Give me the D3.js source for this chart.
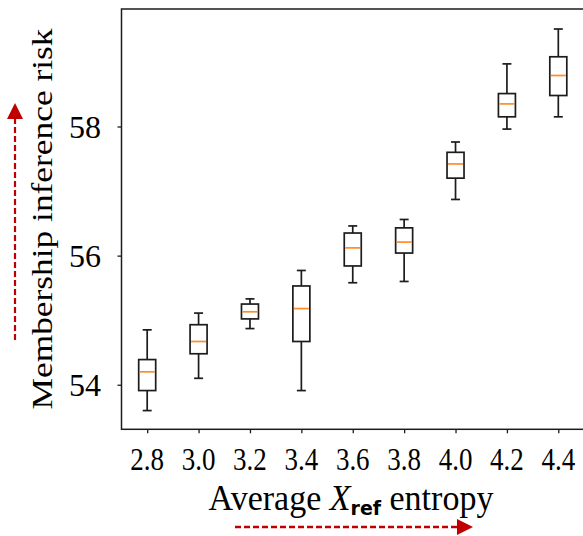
<!DOCTYPE html>
<html lang="en">
	<head>
		<meta charset="utf-8">
		<title>D3: membership inference boxplot</title>
		<script src="https://d3js.org/d3.v7.min.js"></script>
		<style type="text/css">
			body { margin: 0; background: #fff; }
			svg { display: block; }
		</style>
	</head>
	<body>
		<script type="text/javascript">
			// values
			var entropyLabels = ["2.8", "3.0", "3.2", "3.4", "3.6", "3.8", "4.0", "4.2", "4.4"];
			var whiskerLow  = [53.60, 54.10, 54.87, 53.91, 55.58, 55.60, 56.87, 57.96, 58.15];
			var q1          = [53.91, 54.48, 55.02, 54.67, 55.84, 56.04, 57.20, 58.15, 58.48];
			var median      = [54.20, 54.67, 55.13, 55.18, 56.12, 56.21, 57.42, 58.35, 58.79];
			var q3          = [54.39, 54.93, 55.25, 55.53, 56.35, 56.43, 57.60, 58.51, 59.08];
			var whiskerHigh = [54.85, 55.11, 55.33, 55.77, 56.46, 56.56, 57.76, 58.97, 59.51];
			var yTicks = [54, 56, 58];

			var w = 583, h = 536;
			var plotLeft = 121.5, plotRight = 584, plotTop = 9, plotBottom = 429.3;
			var boxW = 17, capW = 9;
			var lineCol = "#1c1c1c", lineW = 1.7;
			var serif = "'Liberation Serif', 'Times New Roman', serif";
			var arrowRed = "#c00000";

			var data = entropyLabels.map(function(d, i){
				return {label: d, lo: whiskerLow[i], q1: q1[i], med: median[i], q3: q3[i], hi: whiskerHigh[i]};
			});

			var svg = d3.select("body").append("svg")
				.attr("width", w)
				.attr("height", h);

			var xscale = d3.scalePoint()
				.domain(entropyLabels)
				.range([plotLeft, plotRight])
				.padding(0.5);

			var yscale = d3.scaleLinear()
				.domain([53.31, 59.82])
				.range([plotBottom, plotTop]);

			// axes (labels drawn separately so they can be stretched like the original)
			var xAxis = svg.append("g")
				.attr("transform", "translate(0," + plotBottom + ")")
				.call(d3.axisBottom(xscale).tickSize(4).tickFormat(""));
			xAxis.select(".domain").remove();
			xAxis.selectAll("line").attr("stroke", lineCol).attr("stroke-width", 1.3);

			var yAxis = svg.append("g")
				.attr("transform", "translate(" + plotLeft + ",0)")
				.call(d3.axisLeft(yscale).tickValues(yTicks).tickSize(4).tickFormat(""));
			yAxis.select(".domain").remove();
			yAxis.selectAll("line").attr("stroke", lineCol).attr("stroke-width", 1.3);

			// frame
			svg.append("rect")
				.attr("x", plotLeft)
				.attr("y", plotTop)
				.attr("width", plotRight - plotLeft)
				.attr("height", plotBottom - plotTop)
				.attr("fill", "none")
				.attr("stroke", lineCol)
				.attr("stroke-width", 1.5);

			// tick labels
			svg.selectAll(".xlab")
				.data(entropyLabels)
				.enter()
				.append("text")
				.attr("class", "xlab")
				.attr("transform", function(d){ return "translate(" + xscale(d) + ",470) scale(1,1.15)"; })
				.attr("text-anchor", "middle")
				.style("font-family", serif)
				.style("font-size", "27px")
				.attr("fill", "#000")
				.text(function(d){ return d; });

			svg.selectAll(".ylab")
				.data(yTicks)
				.enter()
				.append("text")
				.attr("class", "ylab")
				.attr("transform", function(d){ return "translate(101," + (yscale(d) + 11) + ")"; })
				.attr("text-anchor", "end")
				.style("font-family", serif)
				.style("font-size", "32px")
				.attr("fill", "#000")
				.text(function(d){ return d; });

			// boxes
			var boxes = svg.selectAll(".box")
				.data(data)
				.enter()
				.append("g")
				.attr("class", "box")
				.attr("transform", function(d){ return "translate(" + xscale(d.label) + ",0)"; });

			boxes.append("line")
				.attr("x1", 0).attr("x2", 0)
				.attr("y1", function(d){ return yscale(d.hi); })
				.attr("y2", function(d){ return yscale(d.q3); })
				.attr("stroke", lineCol).attr("stroke-width", lineW);
			boxes.append("line")
				.attr("x1", 0).attr("x2", 0)
				.attr("y1", function(d){ return yscale(d.q1); })
				.attr("y2", function(d){ return yscale(d.lo); })
				.attr("stroke", lineCol).attr("stroke-width", lineW);
			boxes.append("line")
				.attr("x1", -capW / 2).attr("x2", capW / 2)
				.attr("y1", function(d){ return yscale(d.hi); })
				.attr("y2", function(d){ return yscale(d.hi); })
				.attr("stroke", lineCol).attr("stroke-width", lineW);
			boxes.append("line")
				.attr("x1", -capW / 2).attr("x2", capW / 2)
				.attr("y1", function(d){ return yscale(d.lo); })
				.attr("y2", function(d){ return yscale(d.lo); })
				.attr("stroke", lineCol).attr("stroke-width", lineW);
			boxes.append("rect")
				.attr("x", -boxW / 2)
				.attr("width", boxW)
				.attr("y", function(d){ return yscale(d.q3); })
				.attr("height", function(d){ return yscale(d.q1) - yscale(d.q3); })
				.attr("fill", "none")
				.attr("stroke", lineCol).attr("stroke-width", lineW);
			boxes.append("line")
				.attr("x1", -boxW / 2 + 1).attr("x2", boxW / 2 - 1)
				.attr("y1", function(d){ return yscale(d.med); })
				.attr("y2", function(d){ return yscale(d.med); })
				.attr("stroke", "#ff8c2a").attr("stroke-width", 1.7);

			// axis titles
			svg.append("text")
				.attr("transform", "translate(52,219) scale(1,1.22) rotate(-90)")
				.attr("text-anchor", "middle")
				.style("font-family", serif)
				.style("font-size", "29px")
				.attr("fill", "#000")
				.text("Membership inference risk");

			var xt = svg.append("text")
				.attr("transform", "translate(351,510) scale(1,1.05)")
				.attr("text-anchor", "middle")
				.style("font-family", serif)
				.style("font-size", "34px")
				.attr("fill", "#000");
			xt.append("tspan").text("Average ");
			xt.append("tspan").style("font-style", "italic").text("X");
			xt.append("tspan")
				.attr("dy", 5)
				.style("font-family", "'DejaVu Sans', sans-serif")
				.style("font-weight", "bold")
				.style("font-size", "19px")
				.text("ref");
			xt.append("tspan").attr("dy", -5).text(" entropy");

			// red dashed arrows
			var defs = svg.append("defs");
			defs.append("marker")
				.attr("id", "head")
				.attr("viewBox", "0 0 16 16")
				.attr("refX", 0).attr("refY", 8)
				.attr("markerWidth", 16).attr("markerHeight", 16)
				.attr("markerUnits", "userSpaceOnUse")
				.attr("orient", "auto")
				.append("path")
				.attr("d", "M0,0 L16,8 L0,16 Z")
				.attr("fill", arrowRed);

			svg.append("line")
				.attr("x1", 15).attr("y1", 340)
				.attr("x2", 15).attr("y2", 119)
				.attr("stroke", arrowRed)
				.attr("stroke-width", 2.2)
				.attr("stroke-dasharray", "6,3")
				.attr("marker-end", "url(#head)");

			svg.append("line")
				.attr("x1", 235).attr("y1", 527)
				.attr("x2", 457).attr("y2", 527)
				.attr("stroke", arrowRed)
				.attr("stroke-width", 2.4)
				.attr("stroke-dasharray", "6,3")
				.attr("marker-end", "url(#head)");
		</script>
	</body>
</html>
